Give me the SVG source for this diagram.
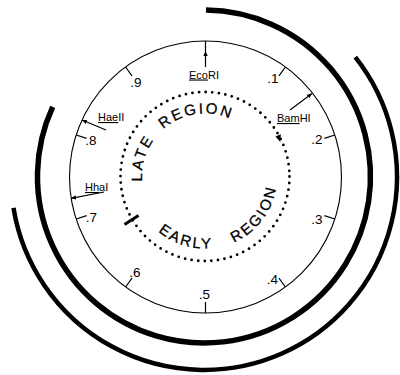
<svg xmlns="http://www.w3.org/2000/svg" width="400" height="375" viewBox="0 0 400 375">
<style>
.thick{fill:none;stroke:#000;stroke-linecap:butt}
.ring{fill:none;stroke:#000;stroke-width:1.1}
.tick{stroke:#000;stroke-width:1.2;fill:none}
.num{font-family:"Liberation Sans",Arial,sans-serif;font-size:13.5px;fill:#000;text-anchor:middle}
.site{font-family:"Liberation Sans",Arial,sans-serif;font-size:11px;fill:#000}
.region{font-family:"Liberation Sans",Arial,sans-serif;font-size:15px;fill:#000;letter-spacing:2.3px;stroke:#000;stroke-width:0.3}
.dots{fill:none;stroke:#000;stroke-width:2.8;stroke-linecap:round;stroke-dasharray:0 6.637}
</style>
<defs>
<marker id="ah" markerWidth="6" markerHeight="6" refX="5" refY="3" orient="auto" markerUnits="userSpaceOnUse">
<path d="M0,0.8 L5,3 L0,5.2 Z" fill="#000"/>
</marker>
<path id="lateP" d="M205,239.5 A63,63 0 1,1 205,113.5 A63,63 0 1,1 205,239.5"/>
<path id="earlyP" d="M205,104.5 A72,72 0 1,0 205,248.5 A72,72 0 1,0 205,104.5"/>
</defs>

<g id="outer-arcs">
<path class="thick" stroke-width="5.5" d="M206,10 A166.5,166.5 0 1,1 52.7,106.9"/>
<path class="thick" stroke-width="4.5" d="M355.3,57.1 A193,193 0 1,1 13.5,207.9"/>
</g>

<g id="map-circle">
<circle class="ring" cx="205.5" cy="177" r="136"/>
</g>

<g id="ticks">
<line class="tick" x1="205.5" y1="41" x2="205.5" y2="51"/>
<line class="tick" x1="285.4" y1="67" x2="279" y2="75.9"/>
<line class="tick" x1="334.8" y1="135" x2="324.4" y2="138.4"/>
<line class="tick" x1="334.8" y1="219" x2="324.4" y2="215.6"/>
<line class="tick" x1="285.4" y1="287" x2="279" y2="278.1"/>
<line class="tick" x1="205.5" y1="313" x2="205.5" y2="302"/>
<line class="tick" x1="125.6" y1="287" x2="132" y2="278.1"/>
<line class="tick" x1="76.2" y1="219" x2="86.6" y2="215.6"/>
<line class="tick" x1="76.2" y1="135" x2="86.6" y2="138.4"/>
<line class="tick" x1="125.6" y1="67" x2="132" y2="75.9"/>
</g>

<g id="scale-labels">
<text class="num" x="273" y="82.5">.1</text>
<text class="num" x="317" y="144">.2</text>
<text class="num" x="317" y="223.5">.3</text>
<text class="num" x="272.5" y="283.5">.4</text>
<text class="num" x="204.5" y="298.5">.5</text>
<text class="num" x="135" y="277">.6</text>
<text class="num" x="91.5" y="222">.7</text>
<text class="num" x="91" y="145">.8</text>
<text class="num" x="136" y="87">.9</text>
</g>

<g id="connectors">
<line class="tick" x1="205.5" y1="67" x2="205.5" y2="51" marker-end="url(#ah)"/>
<line class="tick" x1="106" y1="130" x2="82" y2="120" marker-end="url(#ah)"/>
<line class="tick" x1="290" y1="110" x2="312" y2="93.5" marker-end="url(#ah)"/>
<line class="tick" x1="104" y1="192" x2="71" y2="198.3" marker-end="url(#ah)"/>
</g>

<g id="EcoRI">
<text class="site" x="189" y="78.5"><tspan text-decoration="underline">Eco</tspan>RI</text>
</g>
<g id="HaeII">
<text class="site" x="98" y="121"><tspan text-decoration="underline">Hae</tspan>II</text>
</g>
<g id="BamHI">
<text class="site" x="277" y="122"><tspan text-decoration="underline">Bam</tspan>HI</text>
</g>
<g id="HhaI">
<text class="site" x="85" y="191"><tspan text-decoration="underline">Hh</tspan>aI</text>
</g>

<g id="regions">
<circle class="dots" cx="205" cy="176.5" r="84.5"/>
<line x1="124.5" y1="224.5" x2="138.5" y2="215.5" stroke="#000" stroke-width="3"/>
<path d="M275.5,136.5 L280.8,134.3 L280.3,142 Z" fill="#000"/>
<text class="region"><textPath href="#lateP" startOffset="116.6" text-anchor="middle">LATE</textPath></text>
<text class="region"><textPath href="#lateP" startOffset="188.6" text-anchor="middle">REGION</textPath></text>
<text class="region"><textPath href="#earlyP" startOffset="204.8" text-anchor="middle">EARLY</textPath></text>
<text class="region"><textPath href="#earlyP" startOffset="292.2" text-anchor="middle">REGION</textPath></text>
</g>
</svg>
